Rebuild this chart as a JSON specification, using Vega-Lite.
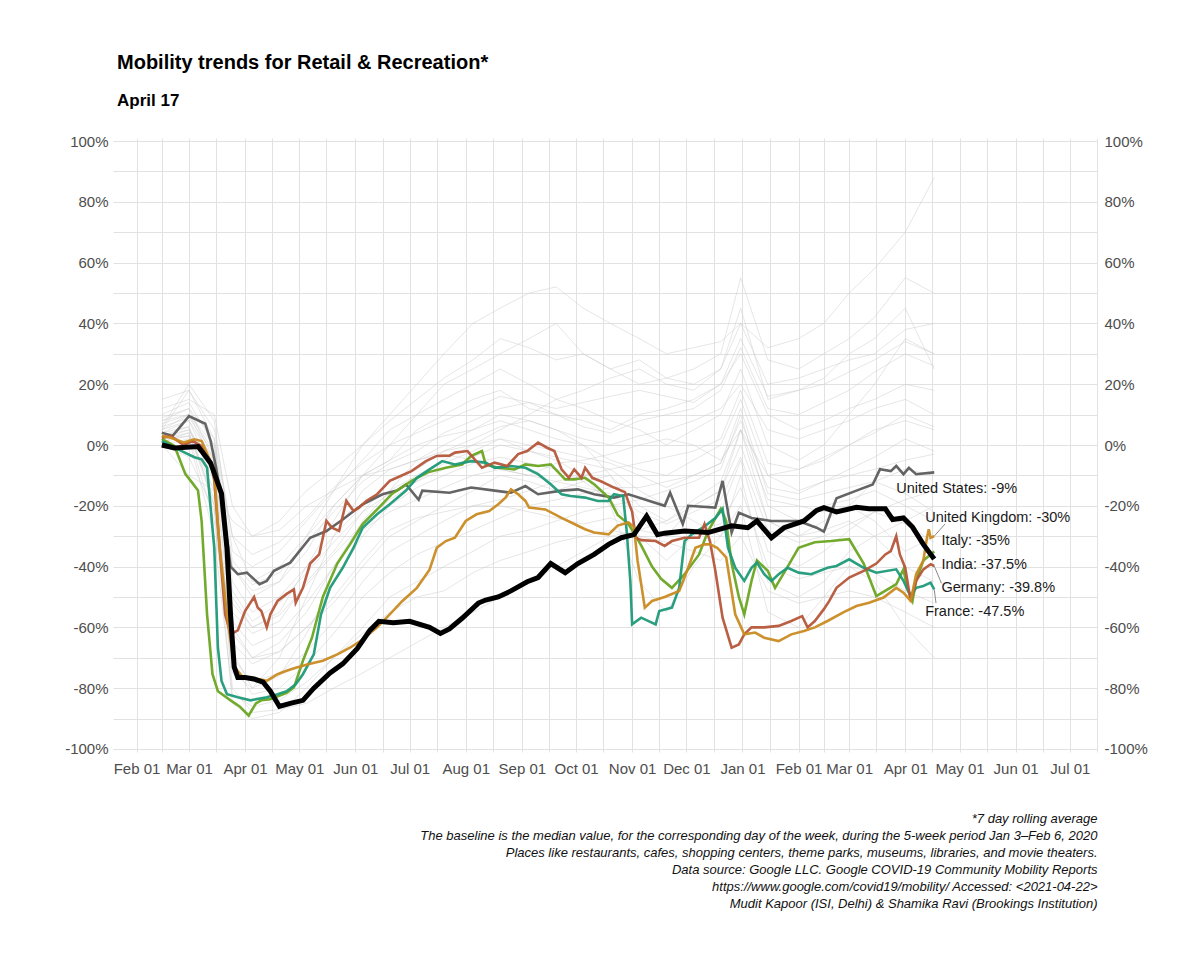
{
"$schema": "https://vega.github.io/schema/vega-lite/v6.json",
"width": 984,
"height": 614,
"autosize": {"type": "none"},
"padding": {"left": 113, "top": 138, "right": 103, "bottom": 212},
"background": "white",
"config": {"view": {"stroke": null}, "font": "Liberation Sans"},
"title": {"text": "Mobility trends for Retail & Recreation*", "subtitle": "April 17", "anchor": "start", "frame": "group", "font": "Liberation Sans", "fontSize": 20, "fontWeight": "bold", "color": "black", "subtitleFont": "Liberation Sans", "subtitleFontSize": 17, "subtitleFontWeight": "bold", "subtitleColor": "black", "subtitlePadding": 20, "offset": 25, "dx": 4},
"datasets": {
"bg": [
{"c":"b1","d":"2020-02-15","v":5},{"c":"b1","d":"2020-03-01","v":10},{"c":"b1","d":"2020-03-15","v":0},{"c":"b1","d":"2020-03-25","v":-40},{"c":"b1","d":"2020-04-05","v":-50},{"c":"b1","d":"2020-04-20","v":-45},{"c":"b1","d":"2020-05-05","v":-30},{"c":"b1","d":"2020-05-20","v":-15},{"c":"b1","d":"2020-06-05","v":0},{"c":"b1","d":"2020-06-20","v":10},{"c":"b1","d":"2020-07-05","v":20},{"c":"b1","d":"2020-07-20","v":30},{"c":"b1","d":"2020-08-05","v":40},{"c":"b1","d":"2020-08-20","v":45},{"c":"b1","d":"2020-09-05","v":50},{"c":"b1","d":"2020-09-20","v":52},{"c":"b1","d":"2020-10-05","v":45},{"c":"b1","d":"2020-10-20","v":40},{"c":"b1","d":"2020-11-05","v":35},{"c":"b1","d":"2020-11-20","v":30},{"c":"b1","d":"2020-12-05","v":32},{"c":"b1","d":"2020-12-20","v":34},{"c":"b1","d":"2020-12-31","v":40},{"c":"b1","d":"2021-01-15","v":32},{"c":"b1","d":"2021-02-01","v":35},{"c":"b1","d":"2021-02-15","v":40},{"c":"b1","d":"2021-03-01","v":50},{"c":"b1","d":"2021-03-15","v":58},{"c":"b1","d":"2021-04-01","v":70},{"c":"b1","d":"2021-04-17","v":88},
{"c":"b2","d":"2020-02-15","v":8},{"c":"b2","d":"2020-03-01","v":12},{"c":"b2","d":"2020-03-15","v":-5},{"c":"b2","d":"2020-03-25","v":-50},{"c":"b2","d":"2020-04-05","v":-60},{"c":"b2","d":"2020-04-20","v":-55},{"c":"b2","d":"2020-05-05","v":-40},{"c":"b2","d":"2020-05-20","v":-25},{"c":"b2","d":"2020-06-05","v":-10},{"c":"b2","d":"2020-06-20","v":0},{"c":"b2","d":"2020-07-05","v":10},{"c":"b2","d":"2020-07-20","v":20},{"c":"b2","d":"2020-08-05","v":25},{"c":"b2","d":"2020-08-20","v":30},{"c":"b2","d":"2020-09-05","v":35},{"c":"b2","d":"2020-09-20","v":40},{"c":"b2","d":"2020-10-05","v":30},{"c":"b2","d":"2020-10-20","v":25},{"c":"b2","d":"2020-11-05","v":28},{"c":"b2","d":"2020-11-20","v":22},{"c":"b2","d":"2020-12-05","v":20},{"c":"b2","d":"2020-12-20","v":25},{"c":"b2","d":"2020-12-31","v":45},{"c":"b2","d":"2021-01-15","v":15},{"c":"b2","d":"2021-02-01","v":18},{"c":"b2","d":"2021-02-15","v":22},{"c":"b2","d":"2021-03-01","v":30},{"c":"b2","d":"2021-03-15","v":35},{"c":"b2","d":"2021-04-01","v":45},{"c":"b2","d":"2021-04-17","v":25},
{"c":"b3","d":"2020-02-15","v":15},{"c":"b3","d":"2020-03-01","v":18},{"c":"b3","d":"2020-03-15","v":5},{"c":"b3","d":"2020-03-25","v":-30},{"c":"b3","d":"2020-04-05","v":-45},{"c":"b3","d":"2020-04-20","v":-40},{"c":"b3","d":"2020-05-05","v":-30},{"c":"b3","d":"2020-05-20","v":-20},{"c":"b3","d":"2020-06-05","v":-10},{"c":"b3","d":"2020-06-20","v":-5},{"c":"b3","d":"2020-07-05","v":5},{"c":"b3","d":"2020-07-20","v":10},{"c":"b3","d":"2020-08-05","v":15},{"c":"b3","d":"2020-08-20","v":18},{"c":"b3","d":"2020-09-05","v":12},{"c":"b3","d":"2020-09-20","v":10},{"c":"b3","d":"2020-10-05","v":8},{"c":"b3","d":"2020-10-20","v":5},{"c":"b3","d":"2020-11-05","v":10},{"c":"b3","d":"2020-11-20","v":12},{"c":"b3","d":"2020-12-05","v":15},{"c":"b3","d":"2020-12-20","v":20},{"c":"b3","d":"2020-12-31","v":30},{"c":"b3","d":"2021-01-15","v":10},{"c":"b3","d":"2021-02-01","v":5},{"c":"b3","d":"2021-02-15","v":8},{"c":"b3","d":"2021-03-01","v":12},{"c":"b3","d":"2021-03-15","v":15},{"c":"b3","d":"2021-04-01","v":20},{"c":"b3","d":"2021-04-17","v":18},
{"c":"b4","d":"2020-02-15","v":5},{"c":"b4","d":"2020-03-01","v":8},{"c":"b4","d":"2020-03-15","v":-10},{"c":"b4","d":"2020-03-25","v":-60},{"c":"b4","d":"2020-04-05","v":-70},{"c":"b4","d":"2020-04-20","v":-65},{"c":"b4","d":"2020-05-05","v":-55},{"c":"b4","d":"2020-05-20","v":-40},{"c":"b4","d":"2020-06-05","v":-25},{"c":"b4","d":"2020-06-20","v":-15},{"c":"b4","d":"2020-07-05","v":-5},{"c":"b4","d":"2020-07-20","v":0},{"c":"b4","d":"2020-08-05","v":5},{"c":"b4","d":"2020-08-20","v":8},{"c":"b4","d":"2020-09-05","v":5},{"c":"b4","d":"2020-09-20","v":2},{"c":"b4","d":"2020-10-05","v":0},{"c":"b4","d":"2020-10-20","v":-5},{"c":"b4","d":"2020-11-05","v":-8},{"c":"b4","d":"2020-11-20","v":-10},{"c":"b4","d":"2020-12-05","v":-5},{"c":"b4","d":"2020-12-20","v":0},{"c":"b4","d":"2020-12-31","v":15},{"c":"b4","d":"2021-01-15","v":-10},{"c":"b4","d":"2021-02-01","v":-8},{"c":"b4","d":"2021-02-15","v":-5},{"c":"b4","d":"2021-03-01","v":0},{"c":"b4","d":"2021-03-15","v":5},{"c":"b4","d":"2021-04-01","v":8},{"c":"b4","d":"2021-04-17","v":5},
{"c":"b5","d":"2020-02-15","v":3},{"c":"b5","d":"2020-03-01","v":5},{"c":"b5","d":"2020-03-15","v":-10},{"c":"b5","d":"2020-03-25","v":-80},{"c":"b5","d":"2020-04-05","v":-88},{"c":"b5","d":"2020-04-20","v":-87},{"c":"b5","d":"2020-05-05","v":-85},{"c":"b5","d":"2020-05-20","v":-80},{"c":"b5","d":"2020-06-05","v":-75},{"c":"b5","d":"2020-06-20","v":-70},{"c":"b5","d":"2020-07-05","v":-65},{"c":"b5","d":"2020-07-20","v":-60},{"c":"b5","d":"2020-08-05","v":-55},{"c":"b5","d":"2020-08-20","v":-50},{"c":"b5","d":"2020-09-05","v":-45},{"c":"b5","d":"2020-09-20","v":-40},{"c":"b5","d":"2020-10-05","v":-35},{"c":"b5","d":"2020-10-20","v":-30},{"c":"b5","d":"2020-11-05","v":-28},{"c":"b5","d":"2020-11-20","v":-25},{"c":"b5","d":"2020-12-05","v":-20},{"c":"b5","d":"2020-12-20","v":-15},{"c":"b5","d":"2020-12-31","v":0},{"c":"b5","d":"2021-01-15","v":-25},{"c":"b5","d":"2021-02-01","v":-30},{"c":"b5","d":"2021-02-15","v":-28},{"c":"b5","d":"2021-03-01","v":-25},{"c":"b5","d":"2021-03-15","v":-30},{"c":"b5","d":"2021-04-01","v":-40},{"c":"b5","d":"2021-04-17","v":-45},
{"c":"b6","d":"2020-02-15","v":2},{"c":"b6","d":"2020-03-01","v":4},{"c":"b6","d":"2020-03-15","v":-20},{"c":"b6","d":"2020-03-25","v":-85},{"c":"b6","d":"2020-04-05","v":-90},{"c":"b6","d":"2020-04-20","v":-88},{"c":"b6","d":"2020-05-05","v":-80},{"c":"b6","d":"2020-05-20","v":-70},{"c":"b6","d":"2020-06-05","v":-60},{"c":"b6","d":"2020-06-20","v":-50},{"c":"b6","d":"2020-07-05","v":-45},{"c":"b6","d":"2020-07-20","v":-40},{"c":"b6","d":"2020-08-05","v":-35},{"c":"b6","d":"2020-08-20","v":-30},{"c":"b6","d":"2020-09-05","v":-28},{"c":"b6","d":"2020-09-20","v":-25},{"c":"b6","d":"2020-10-05","v":-22},{"c":"b6","d":"2020-10-20","v":-20},{"c":"b6","d":"2020-11-05","v":-18},{"c":"b6","d":"2020-11-20","v":-15},{"c":"b6","d":"2020-12-05","v":-12},{"c":"b6","d":"2020-12-20","v":-8},{"c":"b6","d":"2020-12-31","v":10},{"c":"b6","d":"2021-01-15","v":-20},{"c":"b6","d":"2021-02-01","v":-25},{"c":"b6","d":"2021-02-15","v":-20},{"c":"b6","d":"2021-03-01","v":-18},{"c":"b6","d":"2021-03-15","v":-15},{"c":"b6","d":"2021-04-01","v":-20},{"c":"b6","d":"2021-04-17","v":-25},
{"c":"b7","d":"2020-02-15","v":0},{"c":"b7","d":"2020-03-01","v":-10},{"c":"b7","d":"2020-03-15","v":-15},{"c":"b7","d":"2020-03-25","v":-25},{"c":"b7","d":"2020-04-05","v":-30},{"c":"b7","d":"2020-04-20","v":-28},{"c":"b7","d":"2020-05-05","v":-20},{"c":"b7","d":"2020-05-20","v":-15},{"c":"b7","d":"2020-06-05","v":-10},{"c":"b7","d":"2020-06-20","v":-8},{"c":"b7","d":"2020-07-05","v":-5},{"c":"b7","d":"2020-07-20","v":-3},{"c":"b7","d":"2020-08-05","v":-5},{"c":"b7","d":"2020-08-20","v":-8},{"c":"b7","d":"2020-09-05","v":-10},{"c":"b7","d":"2020-09-20","v":-6},{"c":"b7","d":"2020-10-05","v":-5},{"c":"b7","d":"2020-10-20","v":-3},{"c":"b7","d":"2020-11-05","v":0},{"c":"b7","d":"2020-11-20","v":2},{"c":"b7","d":"2020-12-05","v":0},{"c":"b7","d":"2020-12-20","v":-5},{"c":"b7","d":"2020-12-31","v":5},{"c":"b7","d":"2021-01-15","v":-10},{"c":"b7","d":"2021-02-01","v":-15},{"c":"b7","d":"2021-02-15","v":-12},{"c":"b7","d":"2021-03-01","v":-10},{"c":"b7","d":"2021-03-15","v":-8},{"c":"b7","d":"2021-04-01","v":-5},{"c":"b7","d":"2021-04-17","v":-3},
{"c":"b8","d":"2020-02-15","v":4},{"c":"b8","d":"2020-03-01","v":6},{"c":"b8","d":"2020-03-15","v":-20},{"c":"b8","d":"2020-03-25","v":-75},{"c":"b8","d":"2020-04-05","v":-80},{"c":"b8","d":"2020-04-20","v":-70},{"c":"b8","d":"2020-05-05","v":-50},{"c":"b8","d":"2020-05-20","v":-30},{"c":"b8","d":"2020-06-05","v":-15},{"c":"b8","d":"2020-06-20","v":-8},{"c":"b8","d":"2020-07-05","v":-5},{"c":"b8","d":"2020-07-20","v":-2},{"c":"b8","d":"2020-08-05","v":0},{"c":"b8","d":"2020-08-20","v":2},{"c":"b8","d":"2020-09-05","v":-2},{"c":"b8","d":"2020-09-20","v":-5},{"c":"b8","d":"2020-10-05","v":-10},{"c":"b8","d":"2020-10-20","v":-20},{"c":"b8","d":"2020-11-05","v":-45},{"c":"b8","d":"2020-11-20","v":-55},{"c":"b8","d":"2020-12-05","v":-40},{"c":"b8","d":"2020-12-20","v":-30},{"c":"b8","d":"2020-12-31","v":-10},{"c":"b8","d":"2021-01-15","v":-45},{"c":"b8","d":"2021-02-01","v":-50},{"c":"b8","d":"2021-02-15","v":-45},{"c":"b8","d":"2021-03-01","v":-35},{"c":"b8","d":"2021-03-15","v":-30},{"c":"b8","d":"2021-04-01","v":-25},{"c":"b8","d":"2021-04-17","v":-20},
{"c":"b9","d":"2020-02-15","v":10},{"c":"b9","d":"2020-03-01","v":14},{"c":"b9","d":"2020-03-15","v":0},{"c":"b9","d":"2020-03-25","v":-45},{"c":"b9","d":"2020-04-05","v":-55},{"c":"b9","d":"2020-04-20","v":-50},{"c":"b9","d":"2020-05-05","v":-40},{"c":"b9","d":"2020-05-20","v":-30},{"c":"b9","d":"2020-06-05","v":-20},{"c":"b9","d":"2020-06-20","v":-15},{"c":"b9","d":"2020-07-05","v":-10},{"c":"b9","d":"2020-07-20","v":-5},{"c":"b9","d":"2020-08-05","v":0},{"c":"b9","d":"2020-08-20","v":5},{"c":"b9","d":"2020-09-05","v":10},{"c":"b9","d":"2020-09-20","v":15},{"c":"b9","d":"2020-10-05","v":12},{"c":"b9","d":"2020-10-20","v":8},{"c":"b9","d":"2020-11-05","v":5},{"c":"b9","d":"2020-11-20","v":0},{"c":"b9","d":"2020-12-05","v":5},{"c":"b9","d":"2020-12-20","v":10},{"c":"b9","d":"2020-12-31","v":25},{"c":"b9","d":"2021-01-15","v":0},{"c":"b9","d":"2021-02-01","v":-5},{"c":"b9","d":"2021-02-15","v":0},{"c":"b9","d":"2021-03-01","v":10},{"c":"b9","d":"2021-03-15","v":20},{"c":"b9","d":"2021-04-01","v":35},{"c":"b9","d":"2021-04-17","v":30},
{"c":"b10","d":"2020-02-15","v":1},{"c":"b10","d":"2020-03-01","v":3},{"c":"b10","d":"2020-03-15","v":-25},{"c":"b10","d":"2020-03-25","v":-70},{"c":"b10","d":"2020-04-05","v":-78},{"c":"b10","d":"2020-04-20","v":-75},{"c":"b10","d":"2020-05-05","v":-68},{"c":"b10","d":"2020-05-20","v":-58},{"c":"b10","d":"2020-06-05","v":-45},{"c":"b10","d":"2020-06-20","v":-35},{"c":"b10","d":"2020-07-05","v":-30},{"c":"b10","d":"2020-07-20","v":-25},{"c":"b10","d":"2020-08-05","v":-20},{"c":"b10","d":"2020-08-20","v":-18},{"c":"b10","d":"2020-09-05","v":-15},{"c":"b10","d":"2020-09-20","v":-12},{"c":"b10","d":"2020-10-05","v":-10},{"c":"b10","d":"2020-10-20","v":-8},{"c":"b10","d":"2020-11-05","v":-15},{"c":"b10","d":"2020-11-20","v":-20},{"c":"b10","d":"2020-12-05","v":-25},{"c":"b10","d":"2020-12-20","v":-30},{"c":"b10","d":"2020-12-31","v":-20},{"c":"b10","d":"2021-01-15","v":-55},{"c":"b10","d":"2021-02-01","v":-60},{"c":"b10","d":"2021-02-15","v":-50},{"c":"b10","d":"2021-03-01","v":-40},{"c":"b10","d":"2021-03-15","v":-45},{"c":"b10","d":"2021-04-01","v":-60},{"c":"b10","d":"2021-04-17","v":-70},
{"c":"b11","d":"2020-02-15","v":6},{"c":"b11","d":"2020-03-01","v":20},{"c":"b11","d":"2020-03-15","v":8},{"c":"b11","d":"2020-03-25","v":-35},{"c":"b11","d":"2020-04-05","v":-40},{"c":"b11","d":"2020-04-20","v":-35},{"c":"b11","d":"2020-05-05","v":-25},{"c":"b11","d":"2020-05-20","v":-15},{"c":"b11","d":"2020-06-05","v":-5},{"c":"b11","d":"2020-06-20","v":5},{"c":"b11","d":"2020-07-05","v":10},{"c":"b11","d":"2020-07-20","v":15},{"c":"b11","d":"2020-08-05","v":20},{"c":"b11","d":"2020-08-20","v":25},{"c":"b11","d":"2020-09-05","v":20},{"c":"b11","d":"2020-09-20","v":15},{"c":"b11","d":"2020-10-05","v":18},{"c":"b11","d":"2020-10-20","v":22},{"c":"b11","d":"2020-11-05","v":25},{"c":"b11","d":"2020-11-20","v":20},{"c":"b11","d":"2020-12-05","v":18},{"c":"b11","d":"2020-12-20","v":25},{"c":"b11","d":"2020-12-31","v":40},{"c":"b11","d":"2021-01-15","v":20},{"c":"b11","d":"2021-02-01","v":22},{"c":"b11","d":"2021-02-15","v":25},{"c":"b11","d":"2021-03-01","v":28},{"c":"b11","d":"2021-03-15","v":30},{"c":"b11","d":"2021-04-01","v":38},{"c":"b11","d":"2021-04-17","v":40},
{"c":"b12","d":"2020-02-15","v":2},{"c":"b12","d":"2020-03-01","v":3},{"c":"b12","d":"2020-03-15","v":-15},{"c":"b12","d":"2020-03-25","v":-65},{"c":"b12","d":"2020-04-05","v":-72},{"c":"b12","d":"2020-04-20","v":-68},{"c":"b12","d":"2020-05-05","v":-60},{"c":"b12","d":"2020-05-20","v":-52},{"c":"b12","d":"2020-06-05","v":-40},{"c":"b12","d":"2020-06-20","v":-30},{"c":"b12","d":"2020-07-05","v":-25},{"c":"b12","d":"2020-07-20","v":-20},{"c":"b12","d":"2020-08-05","v":-15},{"c":"b12","d":"2020-08-20","v":-10},{"c":"b12","d":"2020-09-05","v":-12},{"c":"b12","d":"2020-09-20","v":-15},{"c":"b12","d":"2020-10-05","v":-12},{"c":"b12","d":"2020-10-20","v":-10},{"c":"b12","d":"2020-11-05","v":-20},{"c":"b12","d":"2020-11-20","v":-25},{"c":"b12","d":"2020-12-05","v":-18},{"c":"b12","d":"2020-12-20","v":-12},{"c":"b12","d":"2020-12-31","v":5},{"c":"b12","d":"2021-01-15","v":-18},{"c":"b12","d":"2021-02-01","v":-20},{"c":"b12","d":"2021-02-15","v":-22},{"c":"b12","d":"2021-03-01","v":-20},{"c":"b12","d":"2021-03-15","v":-25},{"c":"b12","d":"2021-04-01","v":-35},{"c":"b12","d":"2021-04-17","v":-30},
{"c":"b13","d":"2020-02-15","v":4},{"c":"b13","d":"2020-03-01","v":8},{"c":"b13","d":"2020-03-15","v":-5},{"c":"b13","d":"2020-03-25","v":-40},{"c":"b13","d":"2020-04-05","v":-48},{"c":"b13","d":"2020-04-20","v":-45},{"c":"b13","d":"2020-05-05","v":-35},{"c":"b13","d":"2020-05-20","v":-20},{"c":"b13","d":"2020-06-05","v":-10},{"c":"b13","d":"2020-06-20","v":-5},{"c":"b13","d":"2020-07-05","v":0},{"c":"b13","d":"2020-07-20","v":3},{"c":"b13","d":"2020-08-05","v":5},{"c":"b13","d":"2020-08-20","v":10},{"c":"b13","d":"2020-09-05","v":8},{"c":"b13","d":"2020-09-20","v":5},{"c":"b13","d":"2020-10-05","v":2},{"c":"b13","d":"2020-10-20","v":0},{"c":"b13","d":"2020-11-05","v":3},{"c":"b13","d":"2020-11-20","v":5},{"c":"b13","d":"2020-12-05","v":8},{"c":"b13","d":"2020-12-20","v":12},{"c":"b13","d":"2020-12-31","v":20},{"c":"b13","d":"2021-01-15","v":5},{"c":"b13","d":"2021-02-01","v":2},{"c":"b13","d":"2021-02-15","v":5},{"c":"b13","d":"2021-03-01","v":8},{"c":"b13","d":"2021-03-15","v":12},{"c":"b13","d":"2021-04-01","v":15},{"c":"b13","d":"2021-04-17","v":10},
{"c":"b14","d":"2020-02-15","v":0},{"c":"b14","d":"2020-03-01","v":2},{"c":"b14","d":"2020-03-15","v":-30},{"c":"b14","d":"2020-03-25","v":-82},{"c":"b14","d":"2020-04-05","v":-86},{"c":"b14","d":"2020-04-20","v":-84},{"c":"b14","d":"2020-05-05","v":-78},{"c":"b14","d":"2020-05-20","v":-70},{"c":"b14","d":"2020-06-05","v":-62},{"c":"b14","d":"2020-06-20","v":-55},{"c":"b14","d":"2020-07-05","v":-50},{"c":"b14","d":"2020-07-20","v":-48},{"c":"b14","d":"2020-08-05","v":-42},{"c":"b14","d":"2020-08-20","v":-38},{"c":"b14","d":"2020-09-05","v":-35},{"c":"b14","d":"2020-09-20","v":-32},{"c":"b14","d":"2020-10-05","v":-30},{"c":"b14","d":"2020-10-20","v":-28},{"c":"b14","d":"2020-11-05","v":-30},{"c":"b14","d":"2020-11-20","v":-32},{"c":"b14","d":"2020-12-05","v":-35},{"c":"b14","d":"2020-12-20","v":-38},{"c":"b14","d":"2020-12-31","v":-30},{"c":"b14","d":"2021-01-15","v":-48},{"c":"b14","d":"2021-02-01","v":-52},{"c":"b14","d":"2021-02-15","v":-50},{"c":"b14","d":"2021-03-01","v":-48},{"c":"b14","d":"2021-03-15","v":-50},{"c":"b14","d":"2021-04-01","v":-55},{"c":"b14","d":"2021-04-17","v":-60},
{"c":"b15","d":"2020-02-15","v":8},{"c":"b15","d":"2020-03-01","v":10},{"c":"b15","d":"2020-03-15","v":-2},{"c":"b15","d":"2020-03-25","v":-55},{"c":"b15","d":"2020-04-05","v":-62},{"c":"b15","d":"2020-04-20","v":-58},{"c":"b15","d":"2020-05-05","v":-45},{"c":"b15","d":"2020-05-20","v":-35},{"c":"b15","d":"2020-06-05","v":-22},{"c":"b15","d":"2020-06-20","v":-12},{"c":"b15","d":"2020-07-05","v":-8},{"c":"b15","d":"2020-07-20","v":-2},{"c":"b15","d":"2020-08-05","v":2},{"c":"b15","d":"2020-08-20","v":6},{"c":"b15","d":"2020-09-05","v":8},{"c":"b15","d":"2020-09-20","v":5},{"c":"b15","d":"2020-10-05","v":0},{"c":"b15","d":"2020-10-20","v":-10},{"c":"b15","d":"2020-11-05","v":-25},{"c":"b15","d":"2020-11-20","v":-30},{"c":"b15","d":"2020-12-05","v":-20},{"c":"b15","d":"2020-12-20","v":-15},{"c":"b15","d":"2020-12-31","v":5},{"c":"b15","d":"2021-01-15","v":-25},{"c":"b15","d":"2021-02-01","v":-30},{"c":"b15","d":"2021-02-15","v":-25},{"c":"b15","d":"2021-03-01","v":-20},{"c":"b15","d":"2021-03-15","v":-12},{"c":"b15","d":"2021-04-01","v":-8},{"c":"b15","d":"2021-04-17","v":-10},
{"c":"b16","d":"2020-02-15","v":12},{"c":"b16","d":"2020-03-01","v":15},{"c":"b16","d":"2020-03-15","v":10},{"c":"b16","d":"2020-03-25","v":-20},{"c":"b16","d":"2020-04-05","v":-30},{"c":"b16","d":"2020-04-20","v":-25},{"c":"b16","d":"2020-05-05","v":-15},{"c":"b16","d":"2020-05-20","v":-8},{"c":"b16","d":"2020-06-05","v":0},{"c":"b16","d":"2020-06-20","v":8},{"c":"b16","d":"2020-07-05","v":15},{"c":"b16","d":"2020-07-20","v":22},{"c":"b16","d":"2020-08-05","v":28},{"c":"b16","d":"2020-08-20","v":35},{"c":"b16","d":"2020-09-05","v":32},{"c":"b16","d":"2020-09-20","v":28},{"c":"b16","d":"2020-10-05","v":30},{"c":"b16","d":"2020-10-20","v":25},{"c":"b16","d":"2020-11-05","v":20},{"c":"b16","d":"2020-11-20","v":22},{"c":"b16","d":"2020-12-05","v":25},{"c":"b16","d":"2020-12-20","v":30},{"c":"b16","d":"2020-12-31","v":55},{"c":"b16","d":"2021-01-15","v":28},{"c":"b16","d":"2021-02-01","v":25},{"c":"b16","d":"2021-02-15","v":30},{"c":"b16","d":"2021-03-01","v":35},{"c":"b16","d":"2021-03-15","v":42},{"c":"b16","d":"2021-04-01","v":55},{"c":"b16","d":"2021-04-17","v":50},
{"c":"b17","d":"2020-02-15","v":3},{"c":"b17","d":"2020-03-01","v":6},{"c":"b17","d":"2020-03-15","v":-12},{"c":"b17","d":"2020-03-25","v":-68},{"c":"b17","d":"2020-04-05","v":-80},{"c":"b17","d":"2020-04-20","v":-76},{"c":"b17","d":"2020-05-05","v":-62},{"c":"b17","d":"2020-05-20","v":-45},{"c":"b17","d":"2020-06-05","v":-30},{"c":"b17","d":"2020-06-20","v":-20},{"c":"b17","d":"2020-07-05","v":-14},{"c":"b17","d":"2020-07-20","v":-10},{"c":"b17","d":"2020-08-05","v":-6},{"c":"b17","d":"2020-08-20","v":-4},{"c":"b17","d":"2020-09-05","v":-6},{"c":"b17","d":"2020-09-20","v":-8},{"c":"b17","d":"2020-10-05","v":-12},{"c":"b17","d":"2020-10-20","v":-18},{"c":"b17","d":"2020-11-05","v":-30},{"c":"b17","d":"2020-11-20","v":-38},{"c":"b17","d":"2020-12-05","v":-30},{"c":"b17","d":"2020-12-20","v":-22},{"c":"b17","d":"2020-12-31","v":-5},{"c":"b17","d":"2021-01-15","v":-35},{"c":"b17","d":"2021-02-01","v":-40},{"c":"b17","d":"2021-02-15","v":-35},{"c":"b17","d":"2021-03-01","v":-28},{"c":"b17","d":"2021-03-15","v":-22},{"c":"b17","d":"2021-04-01","v":-18},{"c":"b17","d":"2021-04-17","v":-15},
{"c":"b18","d":"2020-02-15","v":6},{"c":"b18","d":"2020-03-01","v":9},{"c":"b18","d":"2020-03-15","v":-3},{"c":"b18","d":"2020-03-25","v":-48},{"c":"b18","d":"2020-04-05","v":-58},{"c":"b18","d":"2020-04-20","v":-52},{"c":"b18","d":"2020-05-05","v":-42},{"c":"b18","d":"2020-05-20","v":-32},{"c":"b18","d":"2020-06-05","v":-22},{"c":"b18","d":"2020-06-20","v":-16},{"c":"b18","d":"2020-07-05","v":-12},{"c":"b18","d":"2020-07-20","v":-8},{"c":"b18","d":"2020-08-05","v":-4},{"c":"b18","d":"2020-08-20","v":0},{"c":"b18","d":"2020-09-05","v":-2},{"c":"b18","d":"2020-09-20","v":-4},{"c":"b18","d":"2020-10-05","v":-6},{"c":"b18","d":"2020-10-20","v":-8},{"c":"b18","d":"2020-11-05","v":-6},{"c":"b18","d":"2020-11-20","v":-4},{"c":"b18","d":"2020-12-05","v":-2},{"c":"b18","d":"2020-12-20","v":2},{"c":"b18","d":"2020-12-31","v":18},{"c":"b18","d":"2021-01-15","v":-6},{"c":"b18","d":"2021-02-01","v":-8},{"c":"b18","d":"2021-02-15","v":-4},{"c":"b18","d":"2021-03-01","v":0},{"c":"b18","d":"2021-03-15","v":4},{"c":"b18","d":"2021-04-01","v":10},{"c":"b18","d":"2021-04-17","v":6},
{"c":"b19","d":"2020-02-15","v":1},{"c":"b19","d":"2020-03-01","v":4},{"c":"b19","d":"2020-03-15","v":-18},{"c":"b19","d":"2020-03-25","v":-72},{"c":"b19","d":"2020-04-05","v":-82},{"c":"b19","d":"2020-04-20","v":-80},{"c":"b19","d":"2020-05-05","v":-72},{"c":"b19","d":"2020-05-20","v":-62},{"c":"b19","d":"2020-06-05","v":-50},{"c":"b19","d":"2020-06-20","v":-42},{"c":"b19","d":"2020-07-05","v":-36},{"c":"b19","d":"2020-07-20","v":-32},{"c":"b19","d":"2020-08-05","v":-28},{"c":"b19","d":"2020-08-20","v":-24},{"c":"b19","d":"2020-09-05","v":-20},{"c":"b19","d":"2020-09-20","v":-18},{"c":"b19","d":"2020-10-05","v":-16},{"c":"b19","d":"2020-10-20","v":-14},{"c":"b19","d":"2020-11-05","v":-14},{"c":"b19","d":"2020-11-20","v":-12},{"c":"b19","d":"2020-12-05","v":-10},{"c":"b19","d":"2020-12-20","v":-6},{"c":"b19","d":"2020-12-31","v":12},{"c":"b19","d":"2021-01-15","v":-16},{"c":"b19","d":"2021-02-01","v":-18},{"c":"b19","d":"2021-02-15","v":-16},{"c":"b19","d":"2021-03-01","v":-14},{"c":"b19","d":"2021-03-15","v":-12},{"c":"b19","d":"2021-04-01","v":-16},{"c":"b19","d":"2021-04-17","v":-22},
{"c":"b20","d":"2020-02-15","v":9},{"c":"b20","d":"2020-03-01","v":12},{"c":"b20","d":"2020-03-15","v":2},{"c":"b20","d":"2020-03-25","v":-38},{"c":"b20","d":"2020-04-05","v":-46},{"c":"b20","d":"2020-04-20","v":-42},{"c":"b20","d":"2020-05-05","v":-32},{"c":"b20","d":"2020-05-20","v":-22},{"c":"b20","d":"2020-06-05","v":-12},{"c":"b20","d":"2020-06-20","v":-6},{"c":"b20","d":"2020-07-05","v":-2},{"c":"b20","d":"2020-07-20","v":4},{"c":"b20","d":"2020-08-05","v":8},{"c":"b20","d":"2020-08-20","v":12},{"c":"b20","d":"2020-09-05","v":14},{"c":"b20","d":"2020-09-20","v":10},{"c":"b20","d":"2020-10-05","v":6},{"c":"b20","d":"2020-10-20","v":4},{"c":"b20","d":"2020-11-05","v":8},{"c":"b20","d":"2020-11-20","v":10},{"c":"b20","d":"2020-12-05","v":12},{"c":"b20","d":"2020-12-20","v":18},{"c":"b20","d":"2020-12-31","v":32},{"c":"b20","d":"2021-01-15","v":12},{"c":"b20","d":"2021-02-01","v":10},{"c":"b20","d":"2021-02-15","v":14},{"c":"b20","d":"2021-03-01","v":18},{"c":"b20","d":"2021-03-15","v":24},{"c":"b20","d":"2021-04-01","v":30},{"c":"b20","d":"2021-04-17","v":26},
{"c":"b21","d":"2020-02-15","v":2},{"c":"b21","d":"2020-03-01","v":5},{"c":"b21","d":"2020-03-15","v":-8},{"c":"b21","d":"2020-03-25","v":-58},{"c":"b21","d":"2020-04-05","v":-66},{"c":"b21","d":"2020-04-20","v":-62},{"c":"b21","d":"2020-05-05","v":-52},{"c":"b21","d":"2020-05-20","v":-40},{"c":"b21","d":"2020-06-05","v":-28},{"c":"b21","d":"2020-06-20","v":-22},{"c":"b21","d":"2020-07-05","v":-18},{"c":"b21","d":"2020-07-20","v":-14},{"c":"b21","d":"2020-08-05","v":-10},{"c":"b21","d":"2020-08-20","v":-8},{"c":"b21","d":"2020-09-05","v":-10},{"c":"b21","d":"2020-09-20","v":-12},{"c":"b21","d":"2020-10-05","v":-14},{"c":"b21","d":"2020-10-20","v":-16},{"c":"b21","d":"2020-11-05","v":-22},{"c":"b21","d":"2020-11-20","v":-26},{"c":"b21","d":"2020-12-05","v":-22},{"c":"b21","d":"2020-12-20","v":-18},{"c":"b21","d":"2020-12-31","v":-4},{"c":"b21","d":"2021-01-15","v":-28},{"c":"b21","d":"2021-02-01","v":-32},{"c":"b21","d":"2021-02-15","v":-30},{"c":"b21","d":"2021-03-01","v":-26},{"c":"b21","d":"2021-03-15","v":-22},{"c":"b21","d":"2021-04-01","v":-26},{"c":"b21","d":"2021-04-17","v":-32},
{"c":"b22","d":"2020-02-15","v":7},{"c":"b22","d":"2020-03-01","v":10},{"c":"b22","d":"2020-03-15","v":-6},{"c":"b22","d":"2020-03-25","v":-52},{"c":"b22","d":"2020-04-05","v":-60},{"c":"b22","d":"2020-04-20","v":-56},{"c":"b22","d":"2020-05-05","v":-46},{"c":"b22","d":"2020-05-20","v":-36},{"c":"b22","d":"2020-06-05","v":-26},{"c":"b22","d":"2020-06-20","v":-18},{"c":"b22","d":"2020-07-05","v":-12},{"c":"b22","d":"2020-07-20","v":-6},{"c":"b22","d":"2020-08-05","v":-2},{"c":"b22","d":"2020-08-20","v":2},{"c":"b22","d":"2020-09-05","v":0},{"c":"b22","d":"2020-09-20","v":-2},{"c":"b22","d":"2020-10-05","v":-4},{"c":"b22","d":"2020-10-20","v":-6},{"c":"b22","d":"2020-11-05","v":-10},{"c":"b22","d":"2020-11-20","v":-14},{"c":"b22","d":"2020-12-05","v":-10},{"c":"b22","d":"2020-12-20","v":-6},{"c":"b22","d":"2020-12-31","v":8},{"c":"b22","d":"2021-01-15","v":-14},{"c":"b22","d":"2021-02-01","v":-16},{"c":"b22","d":"2021-02-15","v":-12},{"c":"b22","d":"2021-03-01","v":-8},{"c":"b22","d":"2021-03-15","v":-4},{"c":"b22","d":"2021-04-01","v":2},{"c":"b22","d":"2021-04-17","v":-2},
{"c":"b23","d":"2020-02-15","v":5},{"c":"b23","d":"2020-03-01","v":18},{"c":"b23","d":"2020-03-15","v":2},{"c":"b23","d":"2020-03-25","v":-30},{"c":"b23","d":"2020-04-05","v":-36},{"c":"b23","d":"2020-04-20","v":-32},{"c":"b23","d":"2020-05-05","v":-24},{"c":"b23","d":"2020-05-20","v":-14},{"c":"b23","d":"2020-06-05","v":-6},{"c":"b23","d":"2020-06-20","v":0},{"c":"b23","d":"2020-07-05","v":4},{"c":"b23","d":"2020-07-20","v":8},{"c":"b23","d":"2020-08-05","v":12},{"c":"b23","d":"2020-08-20","v":16},{"c":"b23","d":"2020-09-05","v":14},{"c":"b23","d":"2020-09-20","v":12},{"c":"b23","d":"2020-10-05","v":14},{"c":"b23","d":"2020-10-20","v":16},{"c":"b23","d":"2020-11-05","v":18},{"c":"b23","d":"2020-11-20","v":16},{"c":"b23","d":"2020-12-05","v":14},{"c":"b23","d":"2020-12-20","v":20},{"c":"b23","d":"2020-12-31","v":35},{"c":"b23","d":"2021-01-15","v":16},{"c":"b23","d":"2021-02-01","v":18},{"c":"b23","d":"2021-02-15","v":20},{"c":"b23","d":"2021-03-01","v":24},{"c":"b23","d":"2021-03-15","v":28},{"c":"b23","d":"2021-04-01","v":34},{"c":"b23","d":"2021-04-17","v":30},
{"c":"b24","d":"2020-02-15","v":0},{"c":"b24","d":"2020-03-01","v":-4},{"c":"b24","d":"2020-03-15","v":-22},{"c":"b24","d":"2020-03-25","v":-62},{"c":"b24","d":"2020-04-05","v":-70},{"c":"b24","d":"2020-04-20","v":-68},{"c":"b24","d":"2020-05-05","v":-60},{"c":"b24","d":"2020-05-20","v":-50},{"c":"b24","d":"2020-06-05","v":-38},{"c":"b24","d":"2020-06-20","v":-28},{"c":"b24","d":"2020-07-05","v":-24},{"c":"b24","d":"2020-07-20","v":-22},{"c":"b24","d":"2020-08-05","v":-20},{"c":"b24","d":"2020-08-20","v":-20},{"c":"b24","d":"2020-09-05","v":-22},{"c":"b24","d":"2020-09-20","v":-24},{"c":"b24","d":"2020-10-05","v":-26},{"c":"b24","d":"2020-10-20","v":-24},{"c":"b24","d":"2020-11-05","v":-28},{"c":"b24","d":"2020-11-20","v":-30},{"c":"b24","d":"2020-12-05","v":-28},{"c":"b24","d":"2020-12-20","v":-26},{"c":"b24","d":"2020-12-31","v":-14},{"c":"b24","d":"2021-01-15","v":-40},{"c":"b24","d":"2021-02-01","v":-44},{"c":"b24","d":"2021-02-15","v":-42},{"c":"b24","d":"2021-03-01","v":-40},{"c":"b24","d":"2021-03-15","v":-42},{"c":"b24","d":"2021-04-01","v":-48},{"c":"b24","d":"2021-04-17","v":-52}
],
"main": [
{"c":"United States","d":"2020-02-15","v":4},{"c":"United States","d":"2020-02-21","v":3},{"c":"United States","d":"2020-03-01","v":9.5},{"c":"United States","d":"2020-03-10","v":7},{"c":"United States","d":"2020-03-13","v":1.3},{"c":"United States","d":"2020-03-16","v":-7.5},{"c":"United States","d":"2020-03-20","v":-21.7},{"c":"United States","d":"2020-03-24","v":-40},{"c":"United States","d":"2020-03-28","v":-42.5},{"c":"United States","d":"2020-04-02","v":-42},{"c":"United States","d":"2020-04-09","v":-45.8},{"c":"United States","d":"2020-04-13","v":-44.7},{"c":"United States","d":"2020-04-17","v":-41.4},{"c":"United States","d":"2020-04-26","v":-38.7},{"c":"United States","d":"2020-05-07","v":-30.5},{"c":"United States","d":"2020-05-16","v":-28.3},{"c":"United States","d":"2020-05-25","v":-24.5},{"c":"United States","d":"2020-06-05","v":-19.5},{"c":"United States","d":"2020-06-16","v":-16.2},{"c":"United States","d":"2020-06-24","v":-15},{"c":"United States","d":"2020-06-29","v":-13},{"c":"United States","d":"2020-07-06","v":-18},{"c":"United States","d":"2020-07-08","v":-15},{"c":"United States","d":"2020-07-23","v":-15.7},{"c":"United States","d":"2020-08-04","v":-14},{"c":"United States","d":"2020-08-17","v":-15},{"c":"United States","d":"2020-08-26","v":-15.7},{"c":"United States","d":"2020-09-03","v":-13.5},{"c":"United States","d":"2020-09-10","v":-16.2},{"c":"United States","d":"2020-09-23","v":-15},{"c":"United States","d":"2020-10-02","v":-14.6},{"c":"United States","d":"2020-10-11","v":-16.2},{"c":"United States","d":"2020-10-22","v":-17.3},{"c":"United States","d":"2020-10-30","v":-16.2},{"c":"United States","d":"2020-11-08","v":-17.9},{"c":"United States","d":"2020-11-19","v":-20},{"c":"United States","d":"2020-11-22","v":-15.7},{"c":"United States","d":"2020-11-29","v":-26},{"c":"United States","d":"2020-12-02","v":-20},{"c":"United States","d":"2020-12-17","v":-20.6},{"c":"United States","d":"2020-12-21","v":-11.8},{"c":"United States","d":"2020-12-26","v":-28.8},{"c":"United States","d":"2020-12-30","v":-22.3},{"c":"United States","d":"2021-01-06","v":-24},{"c":"United States","d":"2021-01-17","v":-25},{"c":"United States","d":"2021-02-01","v":-25},{"c":"United States","d":"2021-02-11","v":-27.2},{"c":"United States","d":"2021-02-15","v":-28.5},{"c":"United States","d":"2021-02-22","v":-17.5},{"c":"United States","d":"2021-03-05","v":-15},{"c":"United States","d":"2021-03-14","v":-13},{"c":"United States","d":"2021-03-18","v":-8},{"c":"United States","d":"2021-03-24","v":-8.6},{"c":"United States","d":"2021-03-27","v":-6.9},{"c":"United States","d":"2021-03-31","v":-9.6},{"c":"United States","d":"2021-04-03","v":-7.5},{"c":"United States","d":"2021-04-07","v":-9.6},{"c":"United States","d":"2021-04-17","v":-9},
{"c":"Italy","d":"2020-02-15","v":2},{"c":"Italy","d":"2020-02-22","v":-0.3},{"c":"Italy","d":"2020-02-28","v":-9.6},{"c":"Italy","d":"2020-03-02","v":-11.8},{"c":"Italy","d":"2020-03-06","v":-15},{"c":"Italy","d":"2020-03-08","v":-25},{"c":"Italy","d":"2020-03-11","v":-55.7},{"c":"Italy","d":"2020-03-14","v":-75.4},{"c":"Italy","d":"2020-03-17","v":-81},{"c":"Italy","d":"2020-03-24","v":-84},{"c":"Italy","d":"2020-03-29","v":-86},{"c":"Italy","d":"2020-04-03","v":-89},{"c":"Italy","d":"2020-04-07","v":-85},{"c":"Italy","d":"2020-04-10","v":-84},{"c":"Italy","d":"2020-04-15","v":-83.6},{"c":"Italy","d":"2020-04-24","v":-81.5},{"c":"Italy","d":"2020-04-28","v":-79.8},{"c":"Italy","d":"2020-05-03","v":-71},{"c":"Italy","d":"2020-05-08","v":-63.4},{"c":"Italy","d":"2020-05-14","v":-50},{"c":"Italy","d":"2020-05-22","v":-39},{"c":"Italy","d":"2020-05-29","v":-32.7},{"c":"Italy","d":"2020-06-05","v":-26},{"c":"Italy","d":"2020-06-14","v":-20.6},{"c":"Italy","d":"2020-06-21","v":-16.2},{"c":"Italy","d":"2020-07-02","v":-11.8},{"c":"Italy","d":"2020-07-11","v":-9},{"c":"Italy","d":"2020-07-21","v":-7.5},{"c":"Italy","d":"2020-07-30","v":-6.4},{"c":"Italy","d":"2020-08-04","v":-3.6},{"c":"Italy","d":"2020-08-10","v":-2},{"c":"Italy","d":"2020-08-12","v":-6.4},{"c":"Italy","d":"2020-08-19","v":-7.5},{"c":"Italy","d":"2020-08-28","v":-8},{"c":"Italy","d":"2020-09-03","v":-6.4},{"c":"Italy","d":"2020-09-10","v":-6.9},{"c":"Italy","d":"2020-09-17","v":-6.4},{"c":"Italy","d":"2020-09-25","v":-11.3},{"c":"Italy","d":"2020-09-30","v":-11.3},{"c":"Italy","d":"2020-10-06","v":-10.8},{"c":"Italy","d":"2020-10-11","v":-12.9},{"c":"Italy","d":"2020-10-19","v":-17.3},{"c":"Italy","d":"2020-10-24","v":-23},{"c":"Italy","d":"2020-10-30","v":-26},{"c":"Italy","d":"2020-11-06","v":-33},{"c":"Italy","d":"2020-11-12","v":-40},{"c":"Italy","d":"2020-11-17","v":-44},{"c":"Italy","d":"2020-11-23","v":-47},{"c":"Italy","d":"2020-11-30","v":-42.5},{"c":"Italy","d":"2020-12-08","v":-36},{"c":"Italy","d":"2020-12-13","v":-28.3},{"c":"Italy","d":"2020-12-20","v":-21},{"c":"Italy","d":"2020-12-23","v":-25},{"c":"Italy","d":"2020-12-26","v":-39},{"c":"Italy","d":"2020-12-30","v":-50},{"c":"Italy","d":"2021-01-02","v":-55.7},{"c":"Italy","d":"2021-01-06","v":-44.7},{"c":"Italy","d":"2021-01-09","v":-38},{"c":"Italy","d":"2021-01-15","v":-41.4},{"c":"Italy","d":"2021-01-19","v":-47},{"c":"Italy","d":"2021-01-26","v":-40},{"c":"Italy","d":"2021-02-01","v":-33.8},{"c":"Italy","d":"2021-02-10","v":-32},{"c":"Italy","d":"2021-02-19","v":-31.6},{"c":"Italy","d":"2021-03-01","v":-31},{"c":"Italy","d":"2021-03-09","v":-39},{"c":"Italy","d":"2021-03-16","v":-49.7},{"c":"Italy","d":"2021-03-27","v":-45.8},{"c":"Italy","d":"2021-03-31","v":-40.9},{"c":"Italy","d":"2021-04-02","v":-47},{"c":"Italy","d":"2021-04-05","v":-51.3},{"c":"Italy","d":"2021-04-07","v":-44.7},{"c":"Italy","d":"2021-04-11","v":-38},{"c":"Italy","d":"2021-04-14","v":-36.5},{"c":"Italy","d":"2021-04-17","v":-35},
{"c":"France","d":"2020-02-15","v":1.3},{"c":"France","d":"2020-02-26","v":-2},{"c":"France","d":"2020-03-04","v":-4},{"c":"France","d":"2020-03-08","v":-4.7},{"c":"France","d":"2020-03-11","v":-7.5},{"c":"France","d":"2020-03-15","v":-34},{"c":"France","d":"2020-03-17","v":-66.7},{"c":"France","d":"2020-03-19","v":-77.6},{"c":"France","d":"2020-03-22","v":-82},{"c":"France","d":"2020-03-28","v":-83},{"c":"France","d":"2020-04-04","v":-84},{"c":"France","d":"2020-04-13","v":-83},{"c":"France","d":"2020-04-19","v":-82},{"c":"France","d":"2020-04-24","v":-81},{"c":"France","d":"2020-04-29","v":-78.7},{"c":"France","d":"2020-05-03","v":-75.4},{"c":"France","d":"2020-05-09","v":-68.9},{"c":"France","d":"2020-05-13","v":-55.7},{"c":"France","d":"2020-05-18","v":-47},{"c":"France","d":"2020-05-25","v":-40.4},{"c":"France","d":"2020-05-31","v":-33.8},{"c":"France","d":"2020-06-05","v":-27.2},{"c":"France","d":"2020-06-13","v":-22.8},{"c":"France","d":"2020-06-20","v":-19.5},{"c":"France","d":"2020-06-29","v":-15},{"c":"France","d":"2020-07-05","v":-10.8},{"c":"France","d":"2020-07-12","v":-8},{"c":"France","d":"2020-07-19","v":-5.3},{"c":"France","d":"2020-07-26","v":-6.4},{"c":"France","d":"2020-08-04","v":-5.3},{"c":"France","d":"2020-08-12","v":-5.8},{"c":"France","d":"2020-08-17","v":-7.5},{"c":"France","d":"2020-08-26","v":-6.9},{"c":"France","d":"2020-09-03","v":-7.5},{"c":"France","d":"2020-09-10","v":-9.6},{"c":"France","d":"2020-09-17","v":-12.9},{"c":"France","d":"2020-09-23","v":-16.2},{"c":"France","d":"2020-09-28","v":-16.8},{"c":"France","d":"2020-10-06","v":-17.3},{"c":"France","d":"2020-10-13","v":-18.4},{"c":"France","d":"2020-10-19","v":-18.4},{"c":"France","d":"2020-10-22","v":-16.2},{"c":"France","d":"2020-10-27","v":-16.8},{"c":"France","d":"2020-10-29","v":-28.3},{"c":"France","d":"2020-10-31","v":-44.7},{"c":"France","d":"2020-11-01","v":-59},{"c":"France","d":"2020-11-06","v":-56.8},{"c":"France","d":"2020-11-14","v":-59},{"c":"France","d":"2020-11-16","v":-54.6},{"c":"France","d":"2020-11-23","v":-53.5},{"c":"France","d":"2020-11-27","v":-47},{"c":"France","d":"2020-11-30","v":-31.6},{"c":"France","d":"2020-12-04","v":-29.4},{"c":"France","d":"2020-12-10","v":-27.2},{"c":"France","d":"2020-12-17","v":-24},{"c":"France","d":"2020-12-21","v":-21},{"c":"France","d":"2020-12-24","v":-33.8},{"c":"France","d":"2020-12-28","v":-40.4},{"c":"France","d":"2021-01-02","v":-44.7},{"c":"France","d":"2021-01-06","v":-40.4},{"c":"France","d":"2021-01-09","v":-38.7},{"c":"France","d":"2021-01-13","v":-42.5},{"c":"France","d":"2021-01-17","v":-44.7},{"c":"France","d":"2021-01-21","v":-42.5},{"c":"France","d":"2021-01-26","v":-40.4},{"c":"France","d":"2021-02-01","v":-42},{"c":"France","d":"2021-02-08","v":-42.5},{"c":"France","d":"2021-02-17","v":-40.4},{"c":"France","d":"2021-02-22","v":-39.8},{"c":"France","d":"2021-03-01","v":-37.6},{"c":"France","d":"2021-03-09","v":-40.4},{"c":"France","d":"2021-03-16","v":-42},{"c":"France","d":"2021-03-27","v":-40.9},{"c":"France","d":"2021-03-31","v":-44.7},{"c":"France","d":"2021-04-04","v":-49.7},{"c":"France","d":"2021-04-07","v":-47},{"c":"France","d":"2021-04-11","v":-46.4},{"c":"France","d":"2021-04-15","v":-45.3},{"c":"France","d":"2021-04-17","v":-47.5},
{"c":"Germany","d":"2020-02-15","v":2.4},{"c":"Germany","d":"2020-02-20","v":3},{"c":"Germany","d":"2020-02-27","v":0},{"c":"Germany","d":"2020-03-03","v":1.3},{"c":"Germany","d":"2020-03-08","v":-0.3},{"c":"Germany","d":"2020-03-13","v":-5.3},{"c":"Germany","d":"2020-03-15","v":-11.8},{"c":"Germany","d":"2020-03-18","v":-34},{"c":"Germany","d":"2020-03-21","v":-55.7},{"c":"Germany","d":"2020-03-24","v":-62.3},{"c":"Germany","d":"2020-03-28","v":-61},{"c":"Germany","d":"2020-04-01","v":-54.6},{"c":"Germany","d":"2020-04-06","v":-50},{"c":"Germany","d":"2020-04-08","v":-53.5},{"c":"Germany","d":"2020-04-10","v":-54.6},{"c":"Germany","d":"2020-04-13","v":-60},{"c":"Germany","d":"2020-04-15","v":-55.7},{"c":"Germany","d":"2020-04-19","v":-51.3},{"c":"Germany","d":"2020-04-24","v":-49},{"c":"Germany","d":"2020-04-28","v":-47.5},{"c":"Germany","d":"2020-04-29","v":-51.9},{"c":"Germany","d":"2020-05-03","v":-47},{"c":"Germany","d":"2020-05-07","v":-39},{"c":"Germany","d":"2020-05-12","v":-36},{"c":"Germany","d":"2020-05-16","v":-25},{"c":"Germany","d":"2020-05-19","v":-27.2},{"c":"Germany","d":"2020-05-23","v":-28.3},{"c":"Germany","d":"2020-05-27","v":-18.4},{"c":"Germany","d":"2020-05-31","v":-21.7},{"c":"Germany","d":"2020-06-03","v":-20.6},{"c":"Germany","d":"2020-06-07","v":-18.4},{"c":"Germany","d":"2020-06-13","v":-16.2},{"c":"Germany","d":"2020-06-20","v":-11.8},{"c":"Germany","d":"2020-06-26","v":-10.2},{"c":"Germany","d":"2020-07-02","v":-8.6},{"c":"Germany","d":"2020-07-10","v":-5.3},{"c":"Germany","d":"2020-07-16","v":-3.6},{"c":"Germany","d":"2020-07-23","v":-3.5},{"c":"Germany","d":"2020-07-26","v":-2.5},{"c":"Germany","d":"2020-08-02","v":-2},{"c":"Germany","d":"2020-08-10","v":-7.5},{"c":"Germany","d":"2020-08-17","v":-5.8},{"c":"Germany","d":"2020-08-24","v":-6.9},{"c":"Germany","d":"2020-08-30","v":-3},{"c":"Germany","d":"2020-09-04","v":-2},{"c":"Germany","d":"2020-09-10","v":0.8},{"c":"Germany","d":"2020-09-15","v":-0.9},{"c":"Germany","d":"2020-09-19","v":-2},{"c":"Germany","d":"2020-09-23","v":-8},{"c":"Germany","d":"2020-09-27","v":-10.8},{"c":"Germany","d":"2020-09-30","v":-8},{"c":"Germany","d":"2020-10-04","v":-10.8},{"c":"Germany","d":"2020-10-06","v":-7.5},{"c":"Germany","d":"2020-10-10","v":-10.8},{"c":"Germany","d":"2020-10-15","v":-12},{"c":"Germany","d":"2020-10-22","v":-14},{"c":"Germany","d":"2020-10-28","v":-15.5},{"c":"Germany","d":"2020-11-01","v":-22},{"c":"Germany","d":"2020-11-03","v":-30.5},{"c":"Germany","d":"2020-11-06","v":-31.3},{"c":"Germany","d":"2020-11-14","v":-31.6},{"c":"Germany","d":"2020-11-19","v":-33.2},{"c":"Germany","d":"2020-11-23","v":-31.6},{"c":"Germany","d":"2020-11-30","v":-30.5},{"c":"Germany","d":"2020-12-08","v":-30.5},{"c":"Germany","d":"2020-12-11","v":-26},{"c":"Germany","d":"2020-12-14","v":-31.6},{"c":"Germany","d":"2020-12-17","v":-41.4},{"c":"Germany","d":"2020-12-21","v":-56.8},{"c":"Germany","d":"2020-12-26","v":-66.7},{"c":"Germany","d":"2020-12-30","v":-65.6},{"c":"Germany","d":"2021-01-02","v":-62.3},{"c":"Germany","d":"2021-01-06","v":-60},{"c":"Germany","d":"2021-01-13","v":-60},{"c":"Germany","d":"2021-01-21","v":-59.5},{"c":"Germany","d":"2021-01-28","v":-57.9},{"c":"Germany","d":"2021-02-03","v":-56.3},{"c":"Germany","d":"2021-02-06","v":-60},{"c":"Germany","d":"2021-02-10","v":-57.9},{"c":"Germany","d":"2021-02-15","v":-54},{"c":"Germany","d":"2021-02-18","v":-51.3},{"c":"Germany","d":"2021-02-22","v":-47},{"c":"Germany","d":"2021-03-01","v":-43.6},{"c":"Germany","d":"2021-03-09","v":-41.4},{"c":"Germany","d":"2021-03-16","v":-39},{"c":"Germany","d":"2021-03-21","v":-36},{"c":"Germany","d":"2021-03-24","v":-34.9},{"c":"Germany","d":"2021-03-27","v":-30},{"c":"Germany","d":"2021-03-29","v":-36},{"c":"Germany","d":"2021-04-01","v":-40.4},{"c":"Germany","d":"2021-04-04","v":-51.3},{"c":"Germany","d":"2021-04-07","v":-44.7},{"c":"Germany","d":"2021-04-11","v":-40.9},{"c":"Germany","d":"2021-04-15","v":-39.2},{"c":"Germany","d":"2021-04-17","v":-39.8},
{"c":"United Kingdom","d":"2020-02-15","v":3},{"c":"United Kingdom","d":"2020-02-20","v":2.4},{"c":"United Kingdom","d":"2020-02-27","v":0.8},{"c":"United Kingdom","d":"2020-03-04","v":1.9},{"c":"United Kingdom","d":"2020-03-08","v":1.3},{"c":"United Kingdom","d":"2020-03-12","v":-4.2},{"c":"United Kingdom","d":"2020-03-15","v":-9.6},{"c":"United Kingdom","d":"2020-03-18","v":-34},{"c":"United Kingdom","d":"2020-03-22","v":-55.7},{"c":"United Kingdom","d":"2020-03-26","v":-73},{"c":"United Kingdom","d":"2020-03-31","v":-76.5},{"c":"United Kingdom","d":"2020-04-08","v":-77},{"c":"United Kingdom","d":"2020-04-13","v":-77.6},{"c":"United Kingdom","d":"2020-04-19","v":-75.4},{"c":"United Kingdom","d":"2020-04-24","v":-74.3},{"c":"United Kingdom","d":"2020-04-29","v":-73.3},{"c":"United Kingdom","d":"2020-05-07","v":-72},{"c":"United Kingdom","d":"2020-05-14","v":-71},{"c":"United Kingdom","d":"2020-05-22","v":-68.9},{"c":"United Kingdom","d":"2020-05-29","v":-66.7},{"c":"United Kingdom","d":"2020-06-05","v":-64},{"c":"United Kingdom","d":"2020-06-13","v":-60},{"c":"United Kingdom","d":"2020-06-20","v":-55.7},{"c":"United Kingdom","d":"2020-06-27","v":-51.3},{"c":"United Kingdom","d":"2020-07-05","v":-47},{"c":"United Kingdom","d":"2020-07-12","v":-41},{"c":"United Kingdom","d":"2020-07-16","v":-33.8},{"c":"United Kingdom","d":"2020-07-21","v":-31.6},{"c":"United Kingdom","d":"2020-07-26","v":-30.5},{"c":"United Kingdom","d":"2020-08-01","v":-25},{"c":"United Kingdom","d":"2020-08-07","v":-22.8},{"c":"United Kingdom","d":"2020-08-14","v":-21.7},{"c":"United Kingdom","d":"2020-08-19","v":-19.5},{"c":"United Kingdom","d":"2020-08-23","v":-17.3},{"c":"United Kingdom","d":"2020-08-26","v":-14.6},{"c":"United Kingdom","d":"2020-08-30","v":-16.2},{"c":"United Kingdom","d":"2020-09-03","v":-18.4},{"c":"United Kingdom","d":"2020-09-05","v":-20.6},{"c":"United Kingdom","d":"2020-09-14","v":-21.2},{"c":"United Kingdom","d":"2020-09-23","v":-24},{"c":"United Kingdom","d":"2020-09-30","v":-26},{"c":"United Kingdom","d":"2020-10-06","v":-27.7},{"c":"United Kingdom","d":"2020-10-11","v":-28.8},{"c":"United Kingdom","d":"2020-10-19","v":-29.4},{"c":"United Kingdom","d":"2020-10-24","v":-26.5},{"c":"United Kingdom","d":"2020-10-30","v":-25.5},{"c":"United Kingdom","d":"2020-11-02","v":-27},{"c":"United Kingdom","d":"2020-11-04","v":-38},{"c":"United Kingdom","d":"2020-11-08","v":-53.5},{"c":"United Kingdom","d":"2020-11-12","v":-51.3},{"c":"United Kingdom","d":"2020-11-19","v":-50},{"c":"United Kingdom","d":"2020-11-27","v":-48},{"c":"United Kingdom","d":"2020-12-02","v":-40.4},{"c":"United Kingdom","d":"2020-12-06","v":-33.8},{"c":"United Kingdom","d":"2020-12-11","v":-32.7},{"c":"United Kingdom","d":"2020-12-14","v":-32.7},{"c":"United Kingdom","d":"2020-12-18","v":-33.8},{"c":"United Kingdom","d":"2020-12-23","v":-37},{"c":"United Kingdom","d":"2020-12-28","v":-55.7},{"c":"United Kingdom","d":"2021-01-02","v":-62.3},{"c":"United Kingdom","d":"2021-01-08","v":-61.7},{"c":"United Kingdom","d":"2021-01-13","v":-63.4},{"c":"United Kingdom","d":"2021-01-21","v":-64.5},{"c":"United Kingdom","d":"2021-01-28","v":-62.3},{"c":"United Kingdom","d":"2021-02-04","v":-61.2},{"c":"United Kingdom","d":"2021-02-10","v":-60},{"c":"United Kingdom","d":"2021-02-17","v":-57.9},{"c":"United Kingdom","d":"2021-02-26","v":-55},{"c":"United Kingdom","d":"2021-03-05","v":-53},{"c":"United Kingdom","d":"2021-03-12","v":-51.9},{"c":"United Kingdom","d":"2021-03-20","v":-50.2},{"c":"United Kingdom","d":"2021-03-27","v":-47},{"c":"United Kingdom","d":"2021-03-31","v":-48.6},{"c":"United Kingdom","d":"2021-04-04","v":-51.3},{"c":"United Kingdom","d":"2021-04-07","v":-42.5},{"c":"United Kingdom","d":"2021-04-11","v":-38},{"c":"United Kingdom","d":"2021-04-13","v":-30.5},{"c":"United Kingdom","d":"2021-04-14","v":-27.7},{"c":"United Kingdom","d":"2021-04-15","v":-30.5},{"c":"United Kingdom","d":"2021-04-17","v":-30},
{"c":"India","d":"2020-02-15","v":0},{"c":"India","d":"2020-02-22","v":-1},{"c":"India","d":"2020-03-06","v":-0.5},{"c":"India","d":"2020-03-08","v":-2},{"c":"India","d":"2020-03-13","v":-6},{"c":"India","d":"2020-03-16","v":-11},{"c":"India","d":"2020-03-19","v":-16},{"c":"India","d":"2020-03-22","v":-34},{"c":"India","d":"2020-03-24","v":-56},{"c":"India","d":"2020-03-26","v":-73},{"c":"India","d":"2020-03-28","v":-76.5},{"c":"India","d":"2020-04-01","v":-76.5},{"c":"India","d":"2020-04-06","v":-77},{"c":"India","d":"2020-04-11","v":-78},{"c":"India","d":"2020-04-15","v":-81},{"c":"India","d":"2020-04-20","v":-86},{"c":"India","d":"2020-04-26","v":-85},{"c":"India","d":"2020-05-03","v":-84},{"c":"India","d":"2020-05-09","v":-80},{"c":"India","d":"2020-05-18","v":-75},{"c":"India","d":"2020-05-25","v":-72},{"c":"India","d":"2020-06-02","v":-67},{"c":"India","d":"2020-06-09","v":-61},{"c":"India","d":"2020-06-14","v":-58},{"c":"India","d":"2020-06-22","v":-58.5},{"c":"India","d":"2020-07-01","v":-58},{"c":"India","d":"2020-07-12","v":-60},{"c":"India","d":"2020-07-18","v":-62},{"c":"India","d":"2020-07-23","v":-60.5},{"c":"India","d":"2020-07-30","v":-57},{"c":"India","d":"2020-08-08","v":-52},{"c":"India","d":"2020-08-12","v":-51},{"c":"India","d":"2020-08-19","v":-50},{"c":"India","d":"2020-08-26","v":-48},{"c":"India","d":"2020-09-04","v":-45},{"c":"India","d":"2020-09-10","v":-43.6},{"c":"India","d":"2020-09-17","v":-39},{"c":"India","d":"2020-09-25","v":-42},{"c":"India","d":"2020-10-02","v":-39},{"c":"India","d":"2020-10-11","v":-36},{"c":"India","d":"2020-10-19","v":-32.7},{"c":"India","d":"2020-10-26","v":-30.5},{"c":"India","d":"2020-11-02","v":-29.5},{"c":"India","d":"2020-11-09","v":-23.4},{"c":"India","d":"2020-11-15","v":-29.5},{"c":"India","d":"2020-11-19","v":-29},{"c":"India","d":"2020-11-30","v":-28.3},{"c":"India","d":"2020-12-13","v":-28.8},{"c":"India","d":"2020-12-26","v":-26.6},{"c":"India","d":"2021-01-04","v":-27.2},{"c":"India","d":"2021-01-09","v":-25},{"c":"India","d":"2021-01-17","v":-30.5},{"c":"India","d":"2021-01-24","v":-27.2},{"c":"India","d":"2021-02-04","v":-25},{"c":"India","d":"2021-02-11","v":-21.5},{"c":"India","d":"2021-02-15","v":-20.6},{"c":"India","d":"2021-02-22","v":-22},{"c":"India","d":"2021-03-05","v":-20.5},{"c":"India","d":"2021-03-12","v":-21},{"c":"India","d":"2021-03-21","v":-21},{"c":"India","d":"2021-03-25","v":-24.5},{"c":"India","d":"2021-03-31","v":-24},{"c":"India","d":"2021-04-05","v":-27},{"c":"India","d":"2021-04-11","v":-32.7},{"c":"India","d":"2021-04-17","v":-37.5}
],
"labels": [
{"lab":"United States: -9%","d":"2021-03-27","v":-14.5},
{"lab":"United Kingdom: -30%","d":"2021-04-12","v":-24},
{"lab":"Italy: -35%","d":"2021-04-21","v":-31.6},
{"lab":"India: -37.5%","d":"2021-04-21","v":-39.5},
{"lab":"Germany: -39.8%","d":"2021-04-21","v":-47},
{"lab":"France: -47.5%","d":"2021-04-12","v":-54.9}
],
"leaders": [
{"c":"United Kingdom","d0":"2021-04-17","v0":-30,"d":"2021-04-23","v":-26},
{"c":"Germany","d0":"2021-04-17","v0":-39.8,"d":"2021-04-21","v":-45.5},
{"c":"France","d0":"2021-04-17","v0":-47.5,"d":"2021-04-18","v":-52}
]
},
"layer": [
{
"data": {"name": "bg"},
"mark": {"type": "line", "strokeWidth": 0.6, "color": "#cacaca", "opacity": 0.8},
"encoding": {
"x": {"field": "d", "type": "temporal",
"scale": {"type": "utc", "domain": [{"year": 2020, "month": 1, "date": 19, "utc": true}, {"year": 2021, "month": 7, "date": 16, "utc": true}]},
"axis": {"orient": "bottom", "values": [
{"year":2020,"month":2,"date":1,"utc":true},{"year":2020,"month":2,"date":15,"utc":true},{"year":2020,"month":3,"date":1,"utc":true},{"year":2020,"month":3,"date":16,"utc":true},{"year":2020,"month":4,"date":1,"utc":true},{"year":2020,"month":4,"date":16,"utc":true},{"year":2020,"month":5,"date":1,"utc":true},{"year":2020,"month":5,"date":16,"utc":true},{"year":2020,"month":6,"date":1,"utc":true},{"year":2020,"month":6,"date":16,"utc":true},{"year":2020,"month":7,"date":1,"utc":true},{"year":2020,"month":7,"date":16,"utc":true},{"year":2020,"month":8,"date":1,"utc":true},{"year":2020,"month":8,"date":16,"utc":true},{"year":2020,"month":9,"date":1,"utc":true},{"year":2020,"month":9,"date":16,"utc":true},{"year":2020,"month":10,"date":1,"utc":true},{"year":2020,"month":10,"date":16,"utc":true},{"year":2020,"month":11,"date":1,"utc":true},{"year":2020,"month":11,"date":16,"utc":true},{"year":2020,"month":12,"date":1,"utc":true},{"year":2020,"month":12,"date":16,"utc":true},
{"year":2021,"month":1,"date":1,"utc":true},{"year":2021,"month":1,"date":16,"utc":true},{"year":2021,"month":2,"date":1,"utc":true},{"year":2021,"month":2,"date":15,"utc":true},{"year":2021,"month":3,"date":1,"utc":true},{"year":2021,"month":3,"date":16,"utc":true},{"year":2021,"month":4,"date":1,"utc":true},{"year":2021,"month":4,"date":16,"utc":true},{"year":2021,"month":5,"date":1,"utc":true},{"year":2021,"month":5,"date":16,"utc":true},{"year":2021,"month":6,"date":1,"utc":true},{"year":2021,"month":6,"date":16,"utc":true},{"year":2021,"month":7,"date":1,"utc":true},{"year":2021,"month":7,"date":16,"utc":true}],
"labelExpr": "utcdate(datum.value) == 1 ? utcFormat(datum.value, '%b %d') : ''",
"grid": true, "gridColor": "#e2e2e2", "gridWidth": 1, "ticks": false, "domain": false,
"labelFont": "Liberation Sans", "labelFontSize": 15, "labelColor": "#4d4d4d", "labelPadding": 9, "labelOverlap": false, "labelFlush": false, "labelBound": false,
"title": ["*7 day rolling average", "The baseline is the median value, for the corresponding day of the week, during the 5-week period Jan 3–Feb 6, 2020", "Places like restaurants, cafes, shopping centers, theme parks, museums, libraries, and movie theaters.", "Data source: Google LLC. Google COVID-19 Community Mobility Reports", "https://www.google.com/covid19/mobility/ Accessed: <2021-04-22>", "Mudit Kapoor (ISI, Delhi) & Shamika Ravi (Brookings Institution)"],
"titleAnchor": "end", "titleAlign": "right", "titleBaseline": "top", "titleFont": "Liberation Sans", "titleFontStyle": "italic", "titleFontWeight": "normal", "titleFontSize": 13, "titleLineHeight": 17, "titleColor": "#111111", "titlePadding": 36}},
"y": {"field": "v", "type": "quantitative", "scale": {"domain": [-101, 101], "nice": false, "zero": false},
"axis": {"orient": "left", "values": [-100,-90,-80,-70,-60,-50,-40,-30,-20,-10,0,10,20,30,40,50,60,70,80,90,100],
"labelExpr": "datum.value % 20 == 0 ? datum.value + '%' : ''",
"grid": true, "gridColor": "#e2e2e2", "gridWidth": 1, "ticks": false, "domain": false,
"labelFont": "Liberation Sans", "labelFontSize": 15, "labelColor": "#4d4d4d", "labelPadding": 5, "labelOverlap": false, "labelFlush": false, "title": null}},
"detail": {"field": "c"}
}
},
{
"mark": {"type": "rule", "color": "#cdb0dc", "strokeWidth": 1.2},
"encoding": {"y": {"datum": 0, "type": "quantitative",
"axis": {"orient": "right", "values": [-100,-80,-60,-40,-20,0,20,40,60,80,100],
"labelExpr": "datum.value + '%'", "grid": false, "ticks": false, "domain": false,
"labelFont": "Liberation Sans", "labelFontSize": 15, "labelColor": "#4d4d4d", "labelPadding": 7, "labelOverlap": false, "labelFlush": false, "title": null}}}
},
{
"data": {"name": "main"},
"transform": [{"filter": "datum.c != 'India'"}],
"mark": {"type": "line", "strokeWidth": 2.6, "opacity": 0.95},
"encoding": {
"x": {"field": "d", "type": "temporal", "axis": null},
"y": {"field": "v", "type": "quantitative", "axis": null},
"color": {"field": "c", "type": "nominal", "legend": null,
"scale": {"domain": ["United States", "United Kingdom", "Germany", "France", "Italy"], "range": ["#5c5c5c", "#c98a22", "#b5563a", "#1d9a78", "#6aa522"]}}
}
},
{
"data": {"name": "main"},
"transform": [{"filter": "datum.c == 'India'"}],
"mark": {"type": "line", "strokeWidth": 5, "color": "black"},
"encoding": {
"x": {"field": "d", "type": "temporal", "axis": null},
"y": {"field": "v", "type": "quantitative", "axis": null}
}
},
{
"data": {"name": "leaders"},
"mark": {"type": "rule", "color": "#8a8a8a", "strokeWidth": 1},
"encoding": {
"x": {"field": "d0", "type": "temporal", "axis": null},
"x2": {"field": "d"},
"y": {"field": "v0", "type": "quantitative", "axis": null},
"y2": {"field": "v"}
}
},
{
"data": {"name": "labels"},
"mark": {"type": "text", "align": "left", "baseline": "middle", "font": "Liberation Sans", "fontSize": 14.5, "color": "#1a1a1a"},
"encoding": {
"x": {"field": "d", "type": "temporal", "axis": null},
"y": {"field": "v", "type": "quantitative", "axis": null},
"text": {"field": "lab"}
}
}
],
"resolve": {"axis": {"x": "independent", "y": "independent"}}
}
